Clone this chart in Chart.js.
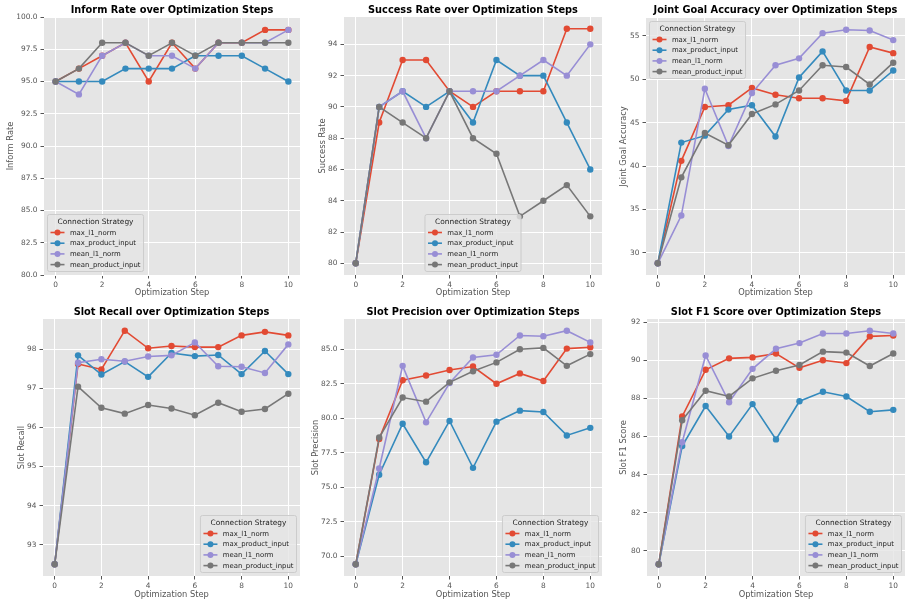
<!DOCTYPE html>
<html>
<head>
<meta charset="utf-8">
<script src="https://cdn.jsdelivr.net/npm/chart.js@4.4.0/dist/chart.umd.min.js"></script>
<style>
  body { margin: 0; background: #fff; }
  #grid { position: relative; width: 912px; height: 606px; }
  .cell { position: absolute; width: 304px; height: 303px; }
</style>
</head>
<body>
<div id="grid"></div>
<script>
const steps = [0, 1, 2, 3, 4, 5, 6, 7, 8, 9, 10];
const xTicks = [0, 2, 4, 6, 8, 10];
const strategies = ['max_l1_norm', 'max_product_input', 'mean_l1_norm', 'mean_product_input'];
const colors = ['#E24A33', '#348ABD', '#988ED5', '#777777'];

// Inform Rate
const informMaxL1 = [95, 96, 97, 98, 95, 98, 96, 98, 98, 99, 99];
const informMaxProduct = [95, 95, 95, 96, 96, 96, 97, 97, 97, 96, 95];
const informMeanL1 = [95, 94, 97, 98, 97, 97, 96, 98, 98, 98, 99];
const informMeanProduct = [95, 96, 98, 98, 97, 98, 97, 98, 98, 98, 98];
const informTicks = [80, 82.5, 85, 87.5, 90, 92.5, 95, 97.5, 100];

// Success Rate
const successMaxL1 = [80, 89, 93, 93, 91, 90, 91, 91, 91, 95, 95];
const successMaxProduct = [80, 90, 91, 90, 91, 89, 93, 92, 92, 89, 86];
const successMeanL1 = [80, 90, 91, 88, 91, 91, 91, 92, 93, 92, 94];
const successMeanProduct = [80, 90, 89, 88, 91, 88, 87, 83, 84, 85, 83];
const successTicks = [80, 82, 84, 86, 88, 90, 92, 94];

// Joint Goal Accuracy
const jointMaxL1 = [28.8, 40.6, 46.8, 47.0, 49.0, 48.2, 47.8, 47.8, 47.5, 53.7, 53.0];
const jointMaxProduct = [28.8, 42.7, 43.5, 46.5, 47.0, 43.4, 50.2, 53.2, 48.7, 48.7, 51.0];
const jointMeanL1 = [28.8, 34.3, 48.9, 42.3, 48.4, 51.6, 52.4, 55.3, 55.7, 55.6, 54.5];
const jointMeanProduct = [28.8, 38.7, 43.8, 42.4, 46.0, 47.1, 48.7, 51.6, 51.4, 49.4, 51.9];
const jointTicks = [30, 35, 40, 45, 50, 55];

// Slot Recall
const recallMaxL1 = [92.5, 97.62, 97.48, 98.47, 98.02, 98.08, 98.05, 98.05, 98.35, 98.44, 98.35];
const recallMaxProduct = [92.5, 97.84, 97.35, 97.68, 97.29, 97.9, 97.82, 97.85, 97.36, 97.95, 97.36];
const recallMeanL1 = [92.5, 97.65, 97.74, 97.69, 97.81, 97.84, 98.17, 97.56, 97.55, 97.39, 98.12];
const recallMeanProduct = [92.5, 97.04, 96.5, 96.35, 96.57, 96.48, 96.31, 96.63, 96.4, 96.47, 96.86];
const recallTicks = [93, 94, 95, 96, 97, 98];

// Slot Precision
const precisionMaxL1 = [69.4, 78.5, 82.75, 83.1, 83.5, 83.75, 82.5, 83.25, 82.7, 85.05, 85.15];
const precisionMaxProduct = [69.4, 75.9, 79.6, 76.8, 79.8, 76.4, 79.75, 80.55, 80.45, 78.75, 79.3];
const precisionMeanL1 = [69.4, 76.35, 83.8, 79.7, 82.55, 84.4, 84.6, 86.0, 85.95, 86.35, 85.5];
const precisionMeanProduct = [69.4, 78.6, 81.5, 81.2, 82.6, 83.4, 84.05, 85.0, 85.1, 83.8, 84.65];
const precisionTicks = [70, 72.5, 75, 77.5, 80, 82.5, 85];

// Slot F1 Score
const f1MaxL1 = [79.3, 87.05, 89.5, 90.1, 90.15, 90.35, 89.6, 90.0, 89.85, 91.25, 91.3];
const f1MaxProduct = [79.3, 85.5, 87.6, 86.0, 87.7, 85.85, 87.85, 88.35, 88.1, 87.3, 87.4];
const f1MeanL1 = [79.3, 85.7, 90.25, 87.8, 89.55, 90.6, 90.9, 91.4, 91.4, 91.55, 91.4];
const f1MeanProduct = [79.3, 86.85, 88.4, 88.1, 89.05, 89.45, 89.75, 90.45, 90.4, 89.7, 90.35];
const f1Ticks = [80, 82, 84, 86, 88, 90, 92];

const FONT = '"DejaVu Sans", sans-serif';

// matplotlib-like 5% margins
function autoLimits(series) {
    const all = [].concat(...series);
    const lo = Math.min(...all), hi = Math.max(...all);
    const m = (hi - lo) * 0.05;
    return [lo - m, hi + m];
}

const panels = [
    { col: 0, row: 0, title: 'Inform Rate over Optimization Steps', ylabel: 'Inform Rate',
      series: [informMaxL1, informMaxProduct, informMeanL1, informMeanProduct],
      ticks: informTicks, decimals: 1, limits: [80, 100], legend: 'lower left',
      box: { left: 44, right: 300, top: 17, bottom: 275, yTitle: 11, titleY: 10 } },
    { col: 1, row: 0, title: 'Success Rate over Optimization Steps', ylabel: 'Success Rate',
      series: [successMaxL1, successMaxProduct, successMeanL1, successMeanProduct],
      ticks: successTicks, decimals: 0, legend: 'lower center',
      box: { left: 40, right: 298, top: 17, bottom: 275, yTitle: 19, titleY: 10 } },
    { col: 2, row: 0, title: 'Joint Goal Accuracy over Optimization Steps', ylabel: 'Joint Goal Accuracy',
      series: [jointMaxL1, jointMaxProduct, jointMeanL1, jointMeanProduct],
      ticks: jointTicks, decimals: 0, legend: 'upper left',
      box: { left: 38, right: 297, top: 18, bottom: 275, yTitle: 16, titleY: 10 } },
    { col: 0, row: 1, title: 'Slot Recall over Optimization Steps', ylabel: 'Slot Recall',
      series: [recallMaxL1, recallMaxProduct, recallMeanL1, recallMeanProduct],
      ticks: recallTicks, decimals: 0, legend: 'lower right',
      box: { left: 43, right: 300, top: 16, bottom: 273, yTitle: 22, titleY: 9 } },
    { col: 1, row: 1, title: 'Slot Precision over Optimization Steps', ylabel: 'Slot Precision',
      series: [precisionMaxL1, precisionMaxProduct, precisionMeanL1, precisionMeanProduct],
      ticks: precisionTicks, decimals: 1, legend: 'lower right',
      box: { left: 40, right: 298, top: 16, bottom: 273, yTitle: 12, titleY: 9 } },
    { col: 2, row: 1, title: 'Slot F1 Score over Optimization Steps', ylabel: 'Slot F1 Score',
      series: [f1MaxL1, f1MaxProduct, f1MeanL1, f1MeanProduct],
      ticks: f1Ticks, decimals: 0, legend: 'lower right',
      box: { left: 39, right: 297, top: 16, bottom: 273, yTitle: 16, titleY: 9 } }
];

const plotBackground = {
    id: 'plotBackground',
    beforeDraw(chart) {
        const { ctx, chartArea: a } = chart;
        ctx.save();
        ctx.fillStyle = '#E5E5E5';
        ctx.fillRect(a.left, a.top, a.right - a.left, a.bottom - a.top);
        ctx.restore();
    }
};

const axesTitle = {
    id: 'axesTitle',
    afterDraw(chart, args, opts) {
        const { ctx, chartArea: a } = chart;
        ctx.save();
        ctx.font = 'bold 9.8px ' + FONT;
        ctx.fillStyle = '#000';
        ctx.textAlign = 'center';
        ctx.textBaseline = 'middle';
        ctx.fillText(opts.text, (a.left + a.right) / 2, opts.y);
        ctx.restore();
    }
};

// legend box drawn inside the axes like matplotlib's
const boxLegend = {
    id: 'boxLegend',
    afterDraw(chart, args, opts) {
        const { ctx, chartArea: a } = chart;
        ctx.save();
        ctx.font = '6.9px ' + FONT;
        let textW = 0;
        strategies.forEach(s => { textW = Math.max(textW, ctx.measureText(s).width); });
        ctx.font = '7.4px ' + FONT;
        const titleW = ctx.measureText('Connection Strategy').width;
        const w = Math.max(22.4 + textW + 3, titleW + 6);
        const h = 57;
        const pad = 3.5;
        let x, y;
        if (opts.loc.endsWith('left')) x = a.left + pad;
        else if (opts.loc.endsWith('right')) x = a.right - pad - w;
        else x = (a.left + a.right) / 2 - w / 2;
        if (opts.loc.startsWith('upper')) y = a.top + pad;
        else y = a.bottom - pad - h;

        ctx.beginPath();
        ctx.roundRect(x, y, w, h, 2);
        ctx.fillStyle = 'rgba(229,229,229,0.8)';
        ctx.fill();
        ctx.strokeStyle = '#CCCCCC';
        ctx.lineWidth = 1;
        ctx.stroke();

        ctx.fillStyle = '#222';
        ctx.textAlign = 'center';
        ctx.textBaseline = 'middle';
        ctx.fillText('Connection Strategy', x + w / 2, y + 7.5);

        ctx.font = '6.9px ' + FONT;
        ctx.textAlign = 'left';
        strategies.forEach((s, i) => {
            const cy = y + 18 + i * 10.7;
            ctx.strokeStyle = colors[i];
            ctx.lineWidth = 1.6;
            ctx.beginPath();
            ctx.moveTo(x + 3, cy);
            ctx.lineTo(x + 17, cy);
            ctx.stroke();
            ctx.fillStyle = colors[i];
            ctx.beginPath();
            ctx.arc(x + 10, cy, 3, 0, Math.PI * 2);
            ctx.fill();
            ctx.fillStyle = '#222';
            ctx.fillText(s, x + 22.4, cy + 0.5);
        });
        ctx.restore();
    }
};

const grid = document.getElementById('grid');

panels.forEach(p => {
    const cell = document.createElement('div');
    cell.className = 'cell';
    cell.style.left = (p.col * 304) + 'px';
    cell.style.top = (p.row * 303) + 'px';
    const canvas = document.createElement('canvas');
    cell.appendChild(canvas);
    grid.appendChild(cell);

    const limits = p.limits || autoLimits(p.series);
    const b = p.box;

    new Chart(canvas.getContext('2d'), {
        type: 'line',
        data: {
            datasets: p.series.map((values, i) => ({
                label: strategies[i],
                data: values.map((v, k) => ({ x: steps[k], y: v })),
                borderColor: colors[i],
                backgroundColor: colors[i],
                borderWidth: 1.6,
                pointRadius: 3.2,
                pointBorderWidth: 0,
                pointBackgroundColor: colors[i],
                fill: false,
                tension: 0,
                order: strategies.length - 1 - i
            }))
        },
        options: {
            responsive: true,
            maintainAspectRatio: false,
            animation: false,
            layout: { padding: { top: b.top, right: 304 - b.right, left: 0, bottom: 0 } },
            plugins: {
                legend: { display: false },
                tooltip: { enabled: false },
                axesTitle: { text: p.title, y: b.titleY },
                boxLegend: { loc: p.legend }
            },
            scales: {
                x: {
                    type: 'linear',
                    min: -0.5,
                    max: 10.5,
                    afterBuildTicks: s => { s.ticks = xTicks.map(v => ({ value: v })); },
                    afterFit: s => { s.height = 303 - b.bottom; },
                    grid: { color: '#FFFFFF', lineWidth: 1, tickColor: '#555555', tickLength: 3.5 },
                    border: { display: false },
                    ticks: { font: { family: FONT, size: 7.4 }, color: '#555555', padding: 2, maxRotation: 0 },
                    title: { display: true, text: 'Optimization Step', color: '#555555',
                             font: { family: FONT, size: 8.3 }, padding: { top: 0, bottom: p.row === 0 ? 5 : 6 } }
                },
                y: {
                    type: 'linear',
                    min: limits[0],
                    max: limits[1],
                    afterBuildTicks: s => { s.ticks = p.ticks.map(v => ({ value: v })); },
                    afterFit: s => { s.width = b.left; },
                    grid: { color: '#FFFFFF', lineWidth: 1, tickColor: '#555555', tickLength: 3.5 },
                    border: { display: false },
                    ticks: { font: { family: FONT, size: 7.4 }, color: '#555555', padding: 3,
                             callback: v => v.toFixed(p.decimals) },
                    title: { display: true, text: p.ylabel, color: '#555555',
                             font: { family: FONT, size: 8.3 }, padding: { top: b.yTitle - 5, bottom: 0 } }
                }
            }
        },
        plugins: [plotBackground, axesTitle, boxLegend]
    });
});
</script>
</body>
</html>
